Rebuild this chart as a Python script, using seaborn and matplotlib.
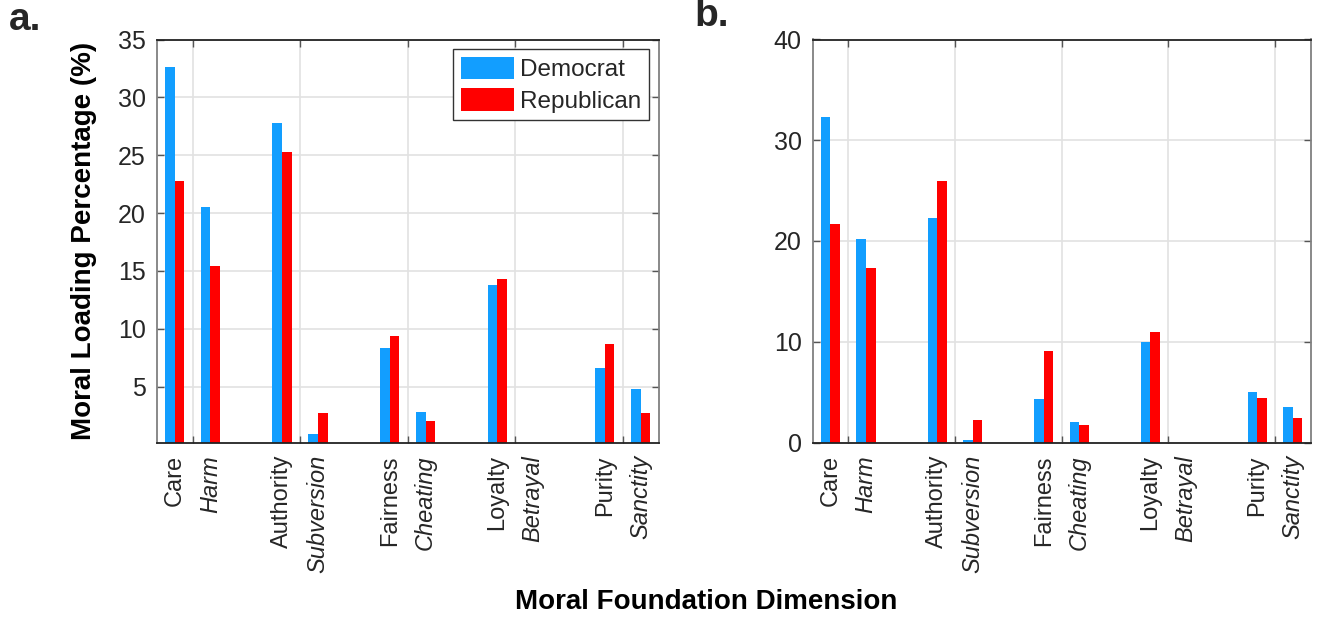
import matplotlib
matplotlib.use('Agg')
import matplotlib.pyplot as plt
import seaborn as sns
import pandas as pd

# slots 1..14, every third slot left empty (value 0)
slots = list(range(1, 15))
labels = ['Care', 'Harm', '', 'Authority', 'Subversion', '', 'Fairness', 'Cheating', '',
          'Loyalty', 'Betrayal', '', 'Purity', 'Sanctity']
italic = ['Harm', 'Subversion', 'Cheating', 'Betrayal', 'Sanctity']

dem_a = [32.6, 20.5, 0, 27.8, 0.9, 0, 8.3, 2.8, 0, 13.8, 0, 0, 6.6, 4.8]
rep_a = [22.8, 15.4, 0, 25.3, 2.7, 0, 9.4, 2.0, 0, 14.3, 0, 0, 8.7, 2.7]
dem_b = [32.3, 20.2, 0, 22.3, 0.2, 0, 4.3, 2.0, 0, 10.0, 0, 0, 5.0, 3.5]
rep_b = [21.7, 17.3, 0, 26.0, 2.2, 0, 9.1, 1.7, 0, 11.0, 0, 0, 4.4, 2.4]

parties = ['Democrat', 'Republican']
colors = {'Democrat': '#129eff', 'Republican': '#ff0000'}

sns.set_style('white')
plt.rcParams['font.family'] = ['Liberation Sans', 'DejaVu Sans']

def long_df(dem, rep):
    return pd.DataFrame({
        'slot': slots + slots,
        'party': ['Democrat'] * len(slots) + ['Republican'] * len(slots),
        'value': dem + rep,
    })

fig = plt.figure(figsize=(13.3, 6.2), dpi=100)
bottom = 1 - 442.5 / 620
height = (442.5 - 39.5) / 620
ax_a = fig.add_axes([156.7 / 1330, bottom, (658.5 - 156.7) / 1330, height])
ax_b = fig.add_axes([812.7 / 1330, bottom, (1310.5 - 812.7) / 1330, height])

grid_col = '#e2e2e2'
txt_col = '#262626'

for ax, dem, rep, ylim, yt in [(ax_a, dem_a, rep_a, (0.17, 35), [5, 10, 15, 20, 25, 30, 35]),
                               (ax_b, dem_b, rep_b, (0, 40), [0, 10, 20, 30, 40])]:
    sns.barplot(data=long_df(dem, rep), x='slot', y='value', hue='party',
                hue_order=parties, palette=colors, native_scale=True,
                width=0.54, saturation=1, linewidth=0, errorbar=None,
                legend=(ax is ax_a), ax=ax)
    ax.set_xlim(0.5, 14.5)
    ax.set_ylim(*ylim)
    ax.set_yticks(yt)
    ax.set_xticks([1.5, 4.5, 7.5, 10.5, 13.5])
    ax.set_xticklabels([])
    lab_pos = [s for s, l in zip(slots, labels) if l]
    lab_txt = [l for l in labels if l]
    ax.set_xticks(lab_pos, lab_txt, minor=True, rotation=90)
    for t in ax.get_xticklabels(minor=True):
        if t.get_text() in italic:
            t.set_fontstyle('italic')
    ax.tick_params(axis='x', which='minor', length=0, pad=9, labelsize=17, labelcolor=txt_col)
    ax.tick_params(axis='x', which='major', direction='in', length=5, width=1,
                   top=True, bottom=True, color='#555555')
    ax.tick_params(axis='y', direction='in', length=5, width=1, left=True, right=True,
                   labelsize=18, labelcolor=txt_col, pad=8, color='#555555')
    ax.grid(True, which='major', color=grid_col, linewidth=1.2)
    ax.set_axisbelow(True)
    for side in ['top', 'bottom']:
        ax.spines[side].set_color('#222222')
        ax.spines[side].set_linewidth(1.3)
    for side in ['left', 'right']:
        ax.spines[side].set_color('#808080')
        ax.spines[side].set_linewidth(1.3)
    ax.set_xlabel('')
    ax.set_ylabel('')

ax_a.set_ylabel('Moral Loading Percentage (%)', fontsize=20, fontweight='bold',
                color='black', labelpad=15)

leg = ax_a.legend(loc='upper right', fontsize=17.5, frameon=True, fancybox=False,
                  handlelength=2.2, handleheight=1.05, handletextpad=0.25,
                  labelspacing=0.3, borderpad=0.3, borderaxespad=0.4, framealpha=1)
leg.get_frame().set_edgecolor('#333333')
leg.get_frame().set_linewidth(1.0)

fig.text(706.5 / 1330, 1 - 602 / 620, 'Moral Foundation Dimension', ha='center',
         va='center', fontsize=20, fontweight='bold', color='black')
fig.text(9 / 1330, 1 - 20 / 620, 'a.', ha='left', va='center', fontsize=28, fontweight='bold')
fig.text(694 / 1330, 1 - 16 / 620, 'b.', ha='left', va='center', fontsize=28, fontweight='bold')

fig.savefig('out.png', dpi=100)
